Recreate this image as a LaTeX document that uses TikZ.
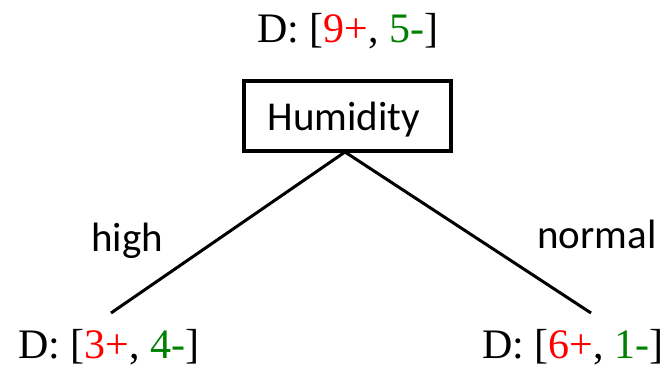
\documentclass[tikz,border=0pt]{standalone}
\usepackage{fontspec}
\setmainfont{Liberation Serif}
\newfontfamily\calib{Carlito}
\definecolor{pos}{RGB}{255,0,0}
\definecolor{negc}{RGB}{0,128,0}
\begin{document}
\begin{tikzpicture}[x=1bp,y=-1bp,
  dlabel/.style={anchor=base,inner sep=0pt,font=\fontsize{42bp}{44bp}\selectfont},
  slabel/.style={anchor=base,inner sep=0pt,font=\calib\fontsize{41bp}{44bp}\selectfont},
  attrbox/.style={draw,line width=3.2bp,minimum width=207bp,minimum height=70bp,inner sep=0pt},
  branch/.style={line width=3bp}]
\useasboundingbox (0,0) rectangle (667,366);
\node[dlabel] (top) at (348,42) {D: [\textcolor{pos}{9+}, \textcolor{negc}{5-}]};
\node[attrbox] (hum) at (347.5,116) {};
\node[slabel] (humt) at (344,130) {Humidity};
\coordinate (apex) at (345,152);
\coordinate (le) at (111,313);
\coordinate (re) at (591,313);
\draw[branch] (apex) -- (le);
\draw[branch] (apex) -- (re);
\node[slabel] (high) at (127,251) {high};
\node[slabel] (normal) at (597,248) {normal};
\node[dlabel] (left) at (109,358) {D: [\textcolor{pos}{3+}, \textcolor{negc}{4-}]};
\node[dlabel] (right) at (573,358) {D: [\textcolor{pos}{6+}, \textcolor{negc}{1-}]};
\end{tikzpicture}
\end{document}
